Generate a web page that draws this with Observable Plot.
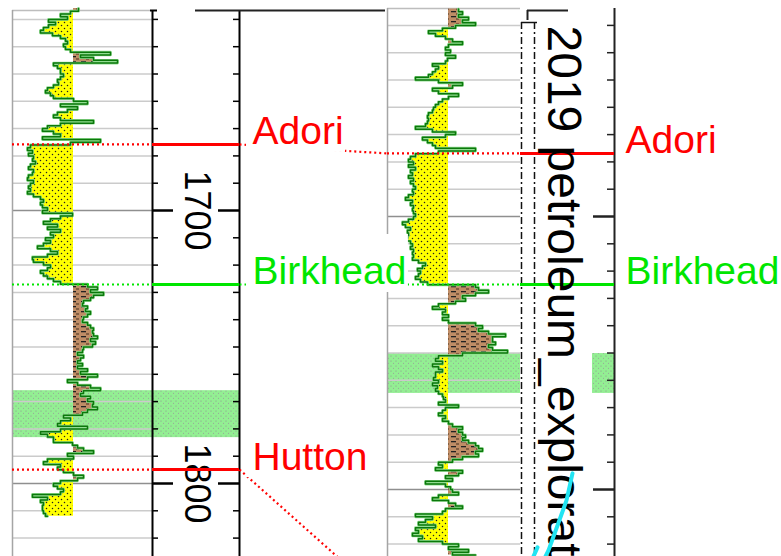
<!DOCTYPE html>
<html><head><meta charset="utf-8">
<script src="https://cdn.jsdelivr.net/npm/d3@7"></script>
<script src="https://cdn.jsdelivr.net/npm/@observablehq/plot@0.6"></script>
<style>html,body{margin:0;padding:0;background:#fff;overflow:hidden}</style>
</head><body><div id="chart"></div>
<script>
// ================= DATA =================
// Left well gamma ray (API), sampled every 1 m from 1626 m
const leftStart = 1626;
const leftGR = [
 66,58,48,55,36,43,36,31,28,40,
 48,53,55,51,53,58,98,68,81,105,
 41,45,48,48,51,48,45,46,41,35,
 33,38,41,61,75,48,65,55,45,41,
 48,81,48,35,30,41,48,30,88,58,
 18,15,20,16,21,20,23,18,16,21,
 20,16,15,21,18,16,18,15,21,28,
 31,28,30,35,30,60,48,38,31,45,
 35,48,38,41,33,38,31,25,38,45,
 35,20,21,31,38,35,28,31,35,41,
 48,75,85,78,91,81,78,71,70,75,
 73,78,75,71,70,75,78,81,80,81,
 85,78,83,80,71,70,65,71,68,65,
 70,65,75,68,85,75,55,65,78,88,
 71,68,78,75,81,80,85,75,70,51,
 58,48,45,75,48,28,35,41,41,60,
 65,71,81,55,61,35,31,48,45,51,
 61,71,65,48,41,45,51,48,20,35,
 28,31,30,30,31,33,35
];
// Right well gamma ray (API), sampled every 1 m from 1624 m (own depth reference)
const rightStart = 1624;
const rightGR = [
 71,75,71,81,75,88,68,55,41,48,
 58,65,75,61,58,63,58,68,60,58,
 45,51,48,45,41,28,51,75,65,45,
 51,71,61,55,51,48,46,45,41,40,
 41,40,38,28,45,68,58,35,40,45,
 48,88,51,28,23,21,26,21,28,23,
 25,21,26,23,26,28,25,26,21,18,
 25,23,26,25,26,28,26,21,15,18,
 23,20,21,20,18,23,25,23,26,25,
 26,25,31,38,35,30,33,31,28,33,
 40,88,91,101,88,75,78,68,51,45,
 58,55,61,55,61,88,95,91,101,118,
 105,105,108,101,105,120,75,51,48,55,
 45,51,55,48,48,46,51,45,50,48,
 51,55,56,58,51,71,58,55,51,58,
 55,61,65,75,71,75,78,75,81,88,
 91,95,88,91,75,65,51,55,48,75,
 71,58,65,38,58,63,65,71,51,45,
 61,68,75,58,55,28,45,38,31,48,
 28,31,25,35,31,55,71,61,81,65,88
];
const rightShift = 2.2;      // m: right well depth + shift = display depth
const grCutoff = 61;         // API sand/shale cutoff

const topNames = ["Adori", "Birkhead", "Hutton"];
const leftTopDepths = [1675.8, 1727.1, 1794.9];
const rightTopDepths = [1676.9, 1724.9, 1841.0];

const leftBand = [1766.0, 1783.2];
const rightBand = [1750.2, 1764.8];

const cyanDepths = [1794.1, 1804.0, 1813.2, 1822.3, 1824.5];
const cyanValues = [39, 33, 24, 15, 12];
const cyan2Depths = [1821.2, 1824.5];
const cyan2Values = [4, 0];

const tickDepths = [1630,1640,1650,1660,1670,1680,1690,1700,1710,1720,1730,1740,1750,1760,1770,1780,1790,1800,1810,1820];
const majorDepths = [1700, 1800];
const wellTitle = "2019 petroleum_exploration";

// ================= LAYOUT / STYLE =================
const W = 781, H = 556;
const PX_PER_M = 2.73;
const TOP = 1700 - 210 / PX_PER_M;
const BOTTOM = TOP + H / PX_PER_M;
const px = p => TOP + p / PX_PER_M;   // depth at a frame pixel row (decorations only)
const mm = p => p / PX_PER_M;         // pixel length -> metres

const LT = {x0: 12, x1: 152};
const DT = {x0: 152, x1: 239};
const RT = {x0: 387, x1: 520};
const RA = 614;
const CT = 533;
const FONT = "'Liberation Sans', Arial, sans-serif";
const LABEL_SIZE = 39;
const topColor = {Adori: "#ff0000", Birkhead: "#00e600", Hutton: "#ff0000"};

const leftLog = leftGR.map((gr, i) => ({d: leftStart + i, gr}));
const rightLog = rightGR.map((gr, i) => ({d: rightStart + i + rightShift, gr}));
const minor = tickDepths.filter(d => !majorDepths.includes(d));

const tops = topNames.map((name, i) => ({name, l: leftTopDepths[i], r: rightTopDepths[i] + rightShift}));

const ctx = document.createElement("canvas").getContext("2d");
ctx.font = `${LABEL_SIZE}px ${FONT}`;
const labels = [
  ...tops.map(t => ({name: t.name, d: t.l, x: 252})),
  ...tops.map(t => ({name: t.name, d: t.r, x: 625}))
].filter(l => l.d < BOTTOM).map(l => ({...l, w: ctx.measureText(l.name).width}));

function logMarks(log, x0) {
  const curve = "step-before";
  return [
    Plot.areaX(log, {y: "d", x1: () => x0 + grCutoff, x2: d => x0 + Math.min(d.gr, grCutoff), fill: "url(#sand)", curve}),
    Plot.areaX(log, {y: "d", x1: () => x0 + grCutoff, x2: d => x0 + Math.max(d.gr, grCutoff), fill: "url(#shale)", curve}),
    Plot.lineX(log, {y: "d", x: d => x0 + d.gr, stroke: "#92dc92", strokeWidth: 2.8, curve}),
    Plot.lineX(log, {y: "d", x: d => x0 + d.gr, stroke: "#0b780b", strokeWidth: 1.5, curve})
  ];
}

const dotted = {strokeDasharray: "2,3", strokeWidth: 2.2};

const svg = Plot.plot({
  width: W, height: H,
  marginTop: 0, marginRight: 0, marginBottom: 0, marginLeft: 0,
  x: {domain: [0, W], range: [0, W], axis: null},
  y: {domain: [TOP, BOTTOM], range: [0, H], axis: null},
  color: {type: "identity"},
  style: {fontFamily: FONT, background: "white"},
  marks: [
    // correlation bands
    Plot.rect([leftBand], {x1: () => LT.x0, x2: () => DT.x1, y1: d => d[0], y2: d => d[1], fill: "url(#band)"}),
    Plot.rect([rightBand, rightBand], {x1: (d, i) => i ? 592 : RT.x0, x2: (d, i) => i ? RA : RT.x1,
      y1: d => d[0] + rightShift, y2: d => d[1] + rightShift, fill: "url(#band)"}),
    // grids
    Plot.ruleY(minor, {x1: LT.x0, x2: LT.x1, stroke: "#cbcbcb", strokeWidth: 1.5}),
    Plot.ruleY(majorDepths, {x1: LT.x0, x2: LT.x1, stroke: "#8f8f8f", strokeWidth: 1.5}),
    Plot.ruleY(minor, {y: d => d + rightShift, x1: RT.x0, x2: RT.x1, stroke: "#cbcbcb", strokeWidth: 1.5}),
    Plot.ruleY(majorDepths, {y: d => d + rightShift, x1: RT.x0, x2: RT.x1, stroke: "#8f8f8f", strokeWidth: 1.5}),
    Plot.ruleY([px(10)], {x1: LT.x0, x2: LT.x1 - 2, stroke: "#bdbdbd", strokeWidth: 1.5}),
    Plot.ruleY([px(8)], {x1: RT.x0, x2: RT.x1, stroke: "#bdbdbd", strokeWidth: 1.5}),
    Plot.ruleX([LT.x0], {y1: px(10), y2: BOTTOM, stroke: "#a5a5a5", strokeWidth: 1.5}),
    Plot.ruleX([RT.x0], {y1: px(8), y2: BOTTOM, stroke: "#a5a5a5", strokeWidth: 1.5}),
    // logs
    ...logMarks(leftLog, LT.x0),
    ...logMarks(rightLog, RT.x0),
    // depth track
    Plot.ruleX([DT.x0, DT.x1], {y1: px(10), y2: BOTTOM, stroke: "black", strokeWidth: 2}),
    Plot.ruleY([px(10)], {x1: 150, x2: 157, stroke: "black", strokeWidth: 2}),
    Plot.ruleY([px(10)], {x1: 195, x2: 385, stroke: "#222", strokeWidth: 2}),
    Plot.ruleY(minor, {x1: DT.x0, x2: DT.x0 + 6, stroke: "black", strokeWidth: 1.5}),
    Plot.ruleY(minor, {x1: DT.x1 - 6, x2: DT.x1, stroke: "black", strokeWidth: 1.5}),
    Plot.ruleY(majorDepths, {x1: DT.x0, x2: DT.x0 + 21, stroke: "black", strokeWidth: 2.5}),
    Plot.ruleY(majorDepths, {x1: DT.x1 - 21, x2: DT.x1, stroke: "black", strokeWidth: 2.5}),
    Plot.text(majorDepths, {x: 196, y: d => d, text: d => String(d), rotate: 90, fontSize: 36,
      textAnchor: "middle", lineAnchor: "middle", fill: "black"}),
    // right well frame / axis
    Plot.ruleX([521, 534], {y1: px(22), y2: BOTTOM, stroke: "#111", strokeWidth: 1.5, strokeDasharray: "7,3,2,3"}),
    Plot.ruleY([px(22)], {x1: 521, x2: 537, stroke: "#111", strokeWidth: 1.5}),
    Plot.ruleY([px(10)], {x1: 527, x2: 568, stroke: "#222", strokeWidth: 2}),
    Plot.ruleX([527], {y1: px(10), y2: px(20), stroke: "#222", strokeWidth: 2}),
    Plot.ruleX([RA], {y1: px(8), y2: BOTTOM, stroke: "#222", strokeWidth: 2}),
    Plot.ruleY(minor, {y: d => d + rightShift, x1: RA - 7, x2: RA, stroke: "#222", strokeWidth: 1.5}),
    Plot.ruleY(majorDepths, {y: d => d + rightShift, x1: RA - 21, x2: RA, stroke: "#222", strokeWidth: 2.5}),
    // formation tops
    Plot.ruleY(tops, {y: "l", x1: LT.x0, x2: DT.x0, stroke: d => topColor[d.name], ...dotted}),
    Plot.ruleY(tops, {y: "l", x1: DT.x0, x2: DT.x1, stroke: d => topColor[d.name], strokeWidth: 3}),
    Plot.link(tops, {x1: DT.x1, y1: "l", x2: RT.x0, y2: "r", stroke: d => topColor[d.name], ...dotted}),
    Plot.ruleY(tops, {y: "r", x1: RT.x0, x2: RT.x1, stroke: d => topColor[d.name], ...dotted}),
    Plot.ruleY(tops, {y: "r", x1: RT.x1, x2: RA, stroke: d => topColor[d.name], strokeWidth: 3}),
    // label boxes + labels
    Plot.rect(labels, {x1: d => d.x - 6, x2: d => d.x + d.w + 2, y1: d => d.d - mm(50), y2: d => d.d + mm(8), fill: "white"}),
    Plot.text(labels, {x: "x", y: "d", text: "name", fill: d => topColor[d.name], fontSize: LABEL_SIZE,
      textAnchor: "start", lineAnchor: "bottom"}),
    // well name
    Plot.text([wellTitle], {x: 547, y: px(25), text: d => d, rotate: 90, fontSize: 48,
      textAnchor: "start", lineAnchor: "bottom", fill: "black"}),
    // cyan curve
    Plot.line(cyanDepths.map((d, i) => ({d: d + rightShift, v: cyanValues[i]})),
      {x: d => CT + d.v, y: "d", stroke: "#22e4f2", strokeWidth: 4}),
    Plot.line(cyan2Depths.map((d, i) => ({d: d + rightShift, v: cyan2Values[i]})),
      {x: d => CT + d.v, y: "d", stroke: "#22e4f2", strokeWidth: 4})
  ]
});

d3.select(svg).insert("defs", ":first-child").html(`
  <pattern id="sand" width="6" height="6" patternUnits="userSpaceOnUse">
    <rect width="6" height="6" fill="#ffff00"/>
    <circle cx="1.5" cy="1.5" r="0.75" fill="#222"/>
    <circle cx="4.5" cy="4.5" r="0.75" fill="#222"/>
  </pattern>
  <pattern id="shale" width="10" height="5" patternUnits="userSpaceOnUse">
    <rect width="10" height="5" fill="#bf8d66"/>
    <rect x="1" y="1" width="5" height="1.3" fill="#222"/>
    <rect x="6" y="3.5" width="3" height="1" fill="#4a2f1c"/>
  </pattern>
  <pattern id="band" width="5" height="5" patternUnits="userSpaceOnUse">
    <rect width="5" height="5" fill="#93ef93"/>
    <circle cx="1" cy="1" r="0.55" fill="#8c8c8c"/>
    <circle cx="3.5" cy="3.2" r="0.55" fill="#9a9a9a"/>
  </pattern>`);

document.getElementById("chart").appendChild(svg);
</script>
</body></html>
